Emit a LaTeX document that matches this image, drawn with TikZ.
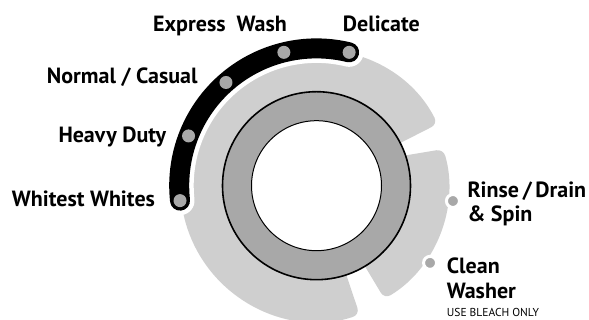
\documentclass[tikz,border=0pt]{standalone}
\usepackage{fontspec}
\setmainfont{PT Sans}
\usetikzlibrary{calc}
\definecolor{lgray}{HTML}{CFCFCF}
\definecolor{dgray}{HTML}{A8A8A8}
\begin{document}
\begin{tikzpicture}[x=1pt,y=1pt,
  lbl/.style={font=\bfseries\fontsize{22}{24}\selectfont, anchor=base west, inner sep=0pt},
  small/.style={font=\fontsize{11.5}{12}\selectfont, anchor=base west, inner sep=0pt},
  dotn/.style={circle, fill=dgray, minimum size=13pt, inner sep=0pt, draw=none},
  dotw/.style={circle, fill=dgray, minimum size=13pt, inner sep=0pt, draw=white, line width=3pt},
]
\useasboundingbox (0,0) rectangle (589,320);
\coordinate (C) at (316.5,134.3);
% main light gray piece
\fill[lgray, rounded corners=7pt] ($(C)+(27:80)$) -- ($(C)+(27:136)$)
  arc[start angle=27,end angle=288.5,radius=136] -- ($(C)+(288.5:80)$) -- cycle;
% middle light gray piece
\fill[lgray, rounded corners=7pt] (370,158.7) -- ($(C)+(16.1:132)$)
  arc[start angle=16.1,end angle=-59,radius=132] -- ($(C)+(-59:75)$) -- cycle;
% black selector arc with white halo
\draw[white, line width=29pt, line cap=round] ($(C)+(186.25:137.3)$)
  arc[start angle=186.25,end angle=76.25,radius=137.3];
\draw[black, line width=20pt, line cap=round] ($(C)+(186.25:137.3)$)
  arc[start angle=186.25,end angle=76.25,radius=137.3];
% dots
\node[dotn] (d1) at ($(C)+(186.25:137.3)$) {};
\node[dotn] (d2) at ($(C)+(158.75:137.3)$) {};
\node[dotn] (d3) at ($(C)+(131.25:137.3)$) {};
\node[dotn] (d4) at ($(C)+(103.75:137.3)$) {};
\node[dotn] (d5) at ($(C)+(76.25:137.3)$) {};
\node[dotw] (d6) at ($(C)+(-6.4:137.3)$) {};
\node[dotw] (d7) at ($(C)+(-34.2:137.3)$) {};
% ring
\filldraw[fill=dgray, draw=black, line width=1.6pt] (C) circle[radius=94];
\filldraw[fill=white, draw=black, line width=1pt] (C) circle[radius=65];
% labels
\node[lbl] (t1) at (153,288.3) {Express\ \ Wash};
\node[lbl] (t2) at (342.7,288.3) {Delicate};
\node[lbl] (t3) at (46.7,236) {Normal / Casual};
\node[lbl] (t4) at (58.3,177.3) {Heavy Duty};
\node[lbl] (t5) at (11.7,113.3) {Whitest Whites};
\node[lbl] (t6) at (467.3,122.7) {Rinse\,/\,Drain};
\node[lbl] (t7) at (467.3,98.3) {\& Spin};
\node[lbl] (t8) at (446.7,46.7) {Clean};
\node[lbl] (t9) at (446.7,21.7) {Washer};
\node[small] (t10) at (446.7,3.3) {USE BLEACH ONLY};
\end{tikzpicture}
\end{document}
